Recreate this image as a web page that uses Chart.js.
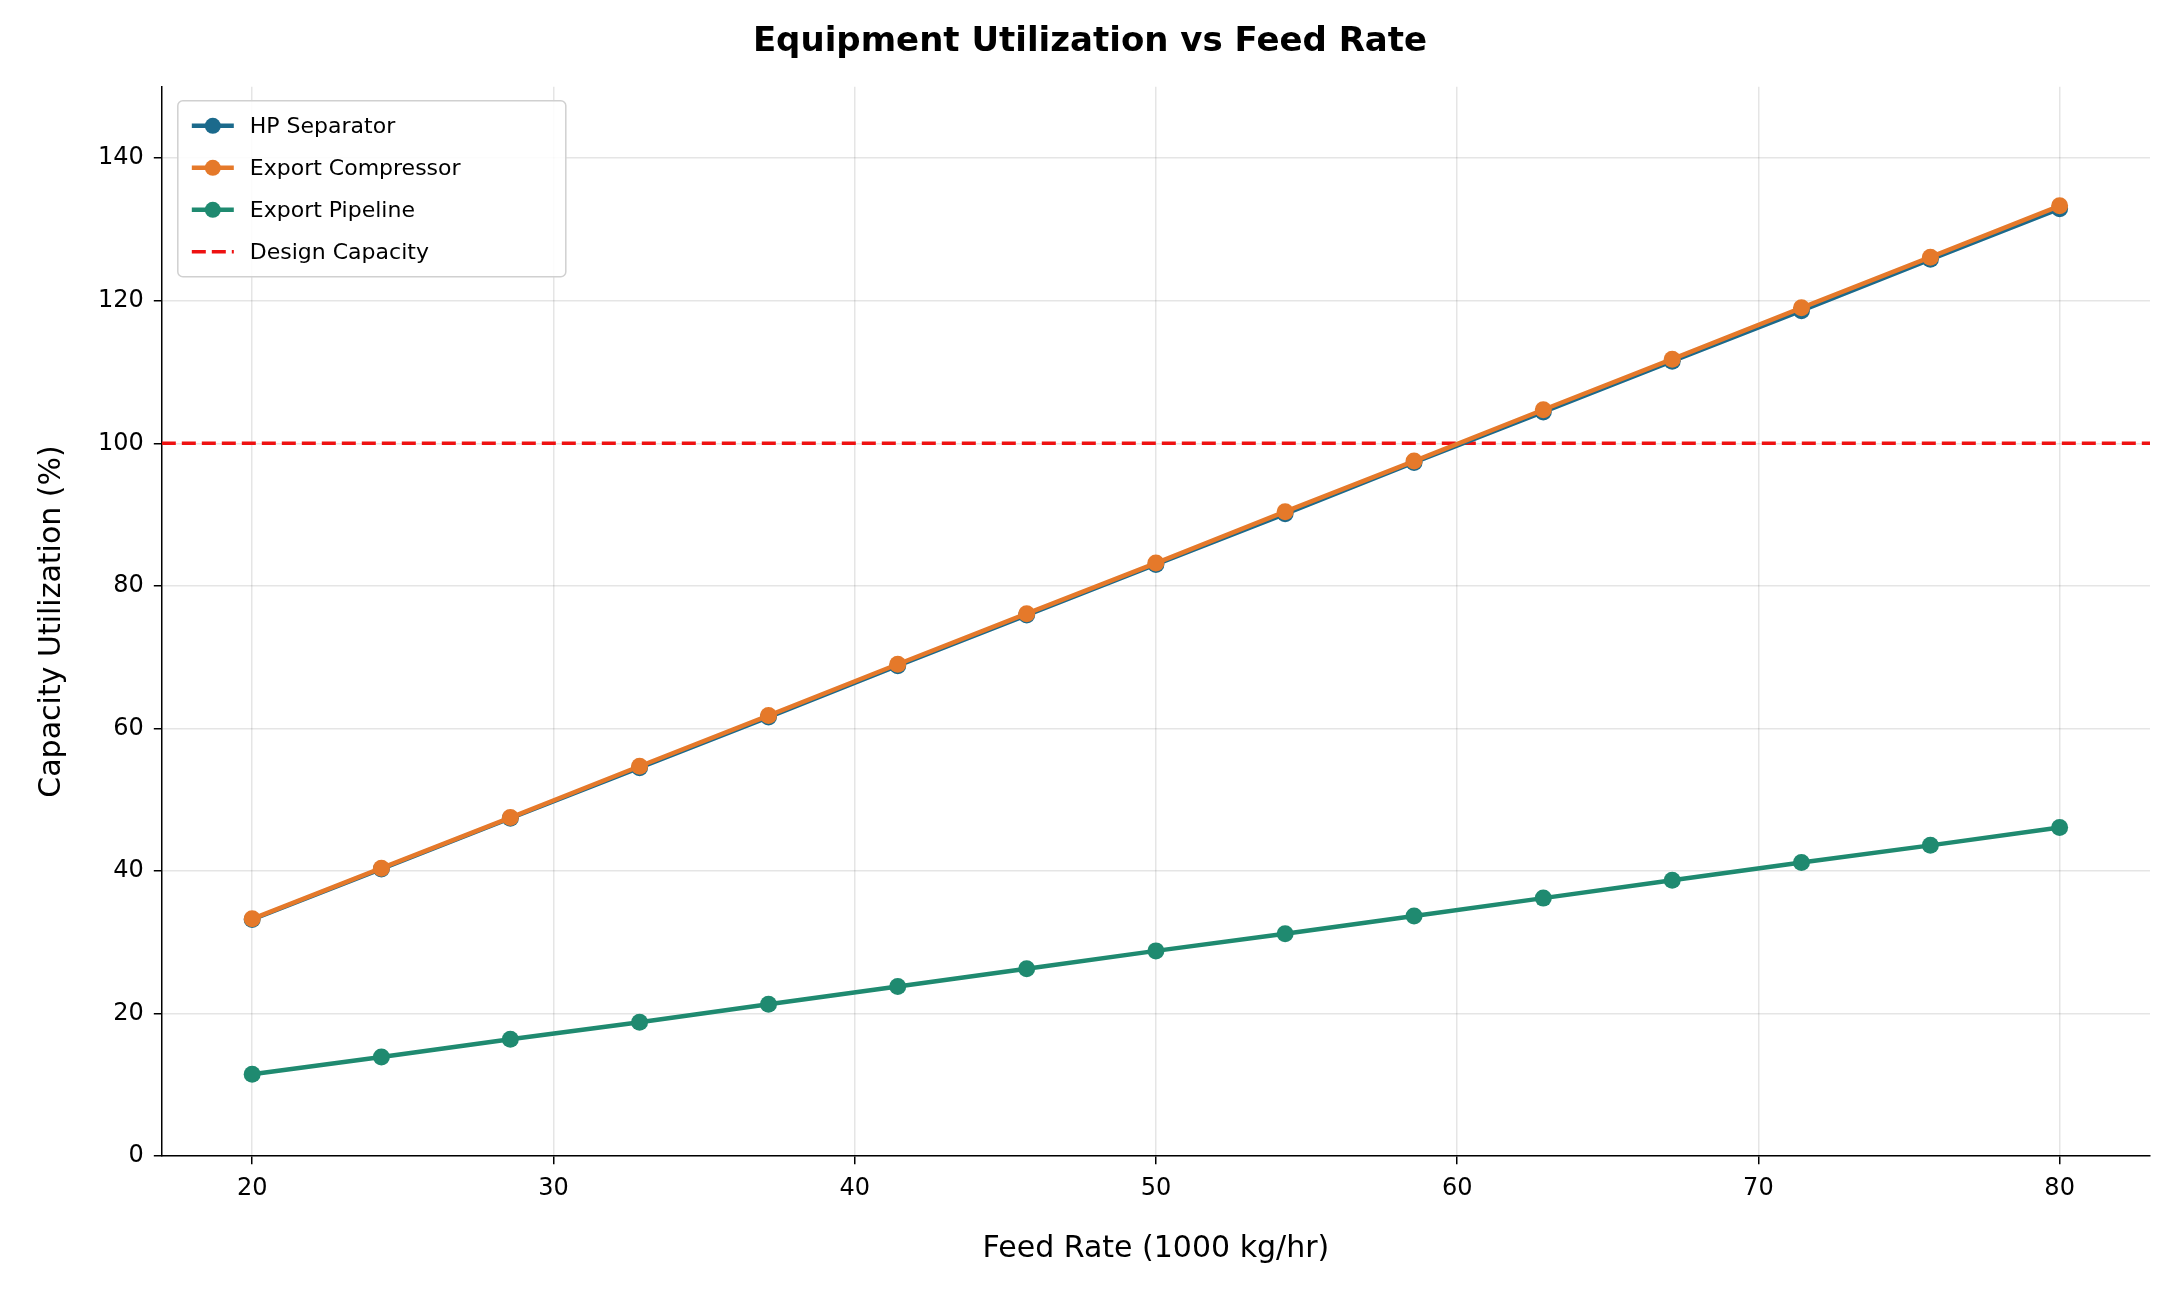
<!DOCTYPE html>
<html>
<head>
<meta charset="utf-8">
<script src="https://cdn.jsdelivr.net/npm/chart.js@4/dist/chart.umd.min.js"></script>
<style>
  body { margin: 0; background: #fff; }
</style>
</head>
<body>
<canvas id="canvas" width="2171" height="1291"></canvas>
<script>
// feed rate (1000 kg/hr)
let feedRate = [20, 24.29, 28.57, 32.86, 37.14, 41.43, 45.71, 50, 54.29, 58.57, 62.86, 67.14, 71.43, 75.71, 80];

// utilization (%) per equipment
let hpSeparator = [33.2, 40.3, 47.4, 54.5, 61.6, 68.8, 75.9, 83.0, 90.1, 97.3, 104.4, 111.5, 118.6, 125.8, 132.9];
let exportCompressor = [33.3, 40.4, 47.5, 54.7, 61.8, 69.0, 76.1, 83.2, 90.4, 97.5, 104.7, 111.8, 119.0, 126.1, 133.3];
let exportPipeline = [11.5, 13.9, 16.4, 18.8, 21.3, 23.8, 26.3, 28.8, 31.2, 33.7, 36.2, 38.7, 41.2, 43.6, 46.1];

let designCapacity = 100;
let xMin = 17, xMax = 83;

function pts(ys) {
  return ys.map((y, i) => ({ x: feedRate[i], y: y }));
}

function series(label, ys, color, order) {
  return {
    label: label,
    data: pts(ys),
    order: order,
    borderColor: color,
    backgroundColor: color,
    borderWidth: 4.5,
    pointRadius: 8.5,
    pointHoverRadius: 8.5,
    pointBorderWidth: 0
  };
}

// legend drawn inside the plot area, top left
let innerLegend = {
  id: 'innerLegend',
  afterDraw(chart) {
    let ctx = chart.ctx;
    let a = chart.chartArea;
    let x0 = a.left + 16, y0 = a.top + 14;
    let w = 388, rowH = 42, h = rowH * 4 + 8;
    ctx.save();
    ctx.fillStyle = 'rgba(255,255,255,0.85)';
    ctx.strokeStyle = '#d0d0d0';
    ctx.lineWidth = 1.5;
    ctx.beginPath();
    ctx.roundRect(x0, y0, w, h, 5);
    ctx.fill();
    ctx.stroke();
    ctx.font = '22px "DejaVu Sans"';
    ctx.textBaseline = 'middle';
    chart.data.datasets.forEach((ds, i) => {
      let cy = y0 + 25 + i * rowH;
      ctx.strokeStyle = ds.borderColor;
      ctx.lineWidth = ds.borderWidth;
      ctx.setLineDash(ds.borderDash || []);
      ctx.beginPath();
      ctx.moveTo(x0 + 14, cy);
      ctx.lineTo(x0 + 56, cy);
      ctx.stroke();
      ctx.setLineDash([]);
      if (ds.pointRadius > 0) {
        ctx.fillStyle = ds.backgroundColor;
        ctx.beginPath();
        ctx.arc(x0 + 35, cy, 8, 0, Math.PI * 2);
        ctx.fill();
      }
      ctx.fillStyle = '#000';
      ctx.fillText(ds.label, x0 + 72, cy + 1);
    });
    ctx.restore();
  }
};

let options = {
  type: 'line',
  data: {
    datasets: [
      series('HP Separator', hpSeparator, '#1b6a8c', 3),
      series('Export Compressor', exportCompressor, '#e5792a', 2),
      series('Export Pipeline', exportPipeline, '#1f8a70', 1),
      {
        label: 'Design Capacity',
        data: [{ x: xMin, y: designCapacity }, { x: xMax, y: designCapacity }],
        order: 4,
        borderColor: '#ee1111',
        backgroundColor: '#ee1111',
        borderWidth: 3.5,
        borderDash: [14, 6],
        pointRadius: 0
      }
    ]
  },
  options: {
    responsive: false,
    animation: false,
    layout: { padding: { top: 14, right: 21, left: 30, bottom: 20 } },
    plugins: {
      legend: { display: false },
      tooltip: { enabled: false },
      title: {
        display: true,
        text: 'Equipment Utilization vs Feed Rate',
        color: '#000',
        font: { family: 'DejaVu Sans', size: 34, weight: 'bold' },
        padding: { top: 8, bottom: 24 }
      }
    },
    scales: {
      x: {
        type: 'linear',
        min: xMin,
        max: xMax,
        afterBuildTicks(axis) {
          axis.ticks = [20, 30, 40, 50, 60, 70, 80].map(v => ({ value: v }));
        },
        title: {
          display: true,
          text: 'Feed Rate (1000 kg/hr)',
          color: '#000',
          font: { family: 'DejaVu Sans', size: 30 },
          padding: { top: 18 }
        },
        ticks: { color: '#000', font: { family: 'DejaVu Sans', size: 24 }, padding: 10 },
        grid: { color: 'rgba(0,0,0,0.1)', lineWidth: 1.5, tickColor: '#000', tickLength: 8 },
        border: { color: '#000', width: 1.5 }
      },
      y: {
        min: 0,
        max: 150,
        afterBuildTicks(axis) {
          axis.ticks = [0, 20, 40, 60, 80, 100, 120, 140].map(v => ({ value: v }));
        },
        title: {
          display: true,
          text: 'Capacity Utilization (%)',
          color: '#000',
          font: { family: 'DejaVu Sans', size: 30 },
          padding: { bottom: 18 }
        },
        ticks: { color: '#000', font: { family: 'DejaVu Sans', size: 24 }, padding: 10 },
        grid: { color: 'rgba(0,0,0,0.1)', lineWidth: 1.5, tickColor: '#000', tickLength: 8 },
        border: { color: '#000', width: 1.5 }
      }
    }
  },
  plugins: [innerLegend]
};

let chart = new Chart(document.getElementById('canvas'), options);
</script>
</body>
</html>
